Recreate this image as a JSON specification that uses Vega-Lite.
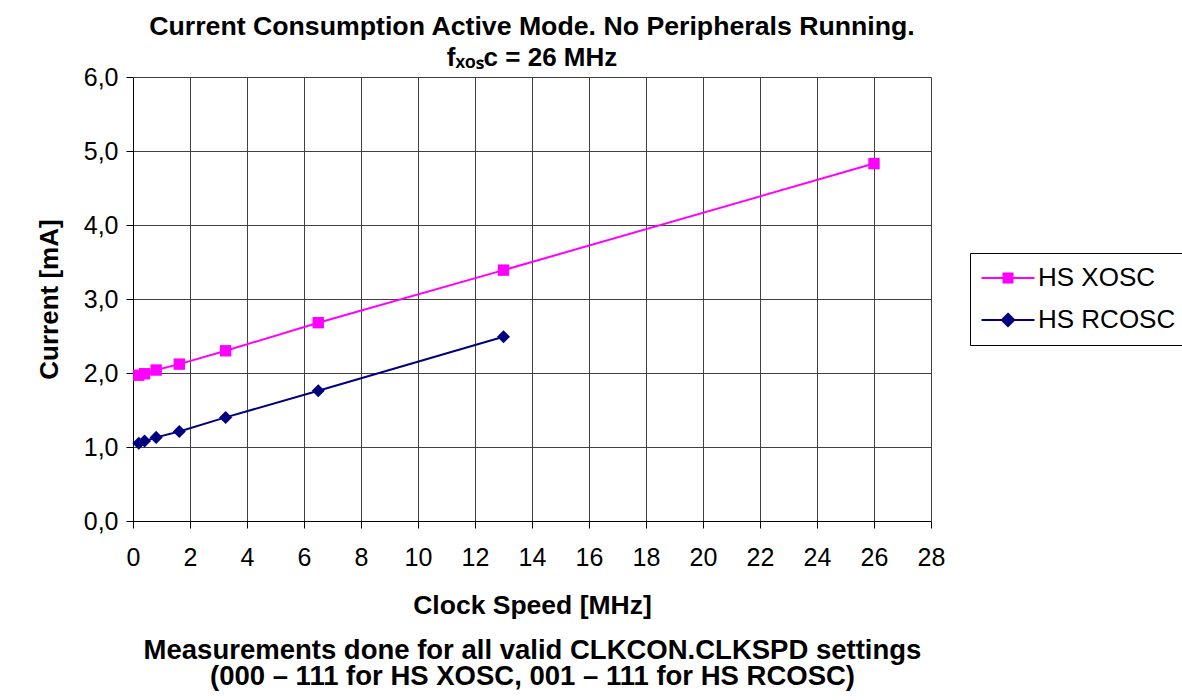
{
  "$schema": "https://vega.github.io/schema/vega-lite/v6.json",
  "width": 798,
  "height": 444,
  "autosize": {"type": "none"},
  "padding": {"left": 133, "top": 77, "right": 251, "bottom": 179},
  "background": "white",
  "config": {"view": {"stroke": null}, "font": "Liberation Sans"},
  "title": {
    "text": "Current Consumption Active Mode. No Peripherals Running.",
    "subtitle": "fₓₒₛc = 26 MHz",
    "anchor": "middle",
    "font": "Liberation Sans",
    "fontSize": 26.7,
    "fontWeight": "bold",
    "color": "black",
    "subtitleFont": "Liberation Sans",
    "subtitleFontSize": 26,
    "subtitleFontWeight": "bold",
    "subtitleColor": "black",
    "subtitlePadding": 4,
    "offset": -6
  },
  "data": {
    "values": [
      {"series": "HS XOSC", "clock": 0.203, "current": 1.97},
      {"series": "HS XOSC", "clock": 0.406, "current": 1.99},
      {"series": "HS XOSC", "clock": 0.8125, "current": 2.04},
      {"series": "HS XOSC", "clock": 1.625, "current": 2.12},
      {"series": "HS XOSC", "clock": 3.25, "current": 2.30},
      {"series": "HS XOSC", "clock": 6.5, "current": 2.68},
      {"series": "HS XOSC", "clock": 13, "current": 3.39},
      {"series": "HS XOSC", "clock": 26, "current": 4.83},
      {"series": "HS RCOSC", "clock": 0.203, "current": 1.05},
      {"series": "HS RCOSC", "clock": 0.406, "current": 1.08},
      {"series": "HS RCOSC", "clock": 0.8125, "current": 1.13},
      {"series": "HS RCOSC", "clock": 1.625, "current": 1.21},
      {"series": "HS RCOSC", "clock": 3.25, "current": 1.40},
      {"series": "HS RCOSC", "clock": 6.5, "current": 1.76},
      {"series": "HS RCOSC", "clock": 13, "current": 2.49}
    ]
  },
  "resolve": {"axis": {"x": "independent"}},
  "encoding": {
    "y": {
      "field": "current",
      "type": "quantitative",
      "scale": {"domain": [0, 6], "nice": false},
      "axis": {
        "values": [0, 1, 2, 3, 4, 5, 6],
        "labelExpr": "replace(format(datum.value, '.1f'), '.', ',')",
        "title": "Current [mA]",
        "titleFont": "Liberation Sans",
        "titleFontSize": 26,
        "titleFontWeight": "bold",
        "titleColor": "black",
        "titlePadding": 21,
        "labelFont": "Liberation Sans",
        "labelFontSize": 25,
        "labelColor": "black",
        "labelPadding": 8,
        "labelFlush": false,
        "labelOverlap": false,
        "tickColor": "black",
        "tickSize": 7,
        "domainColor": "black",
        "grid": true,
        "gridColor": "#404040",
        "gridWidth": 1
      }
    }
  },
  "layer": [
    {
      "mark": {"type": "line", "strokeWidth": 2},
      "encoding": {
        "x": {
          "field": "clock",
          "type": "quantitative",
          "scale": {"domain": [0, 28], "nice": false},
          "axis": {
            "orient": "bottom",
            "values": [0, 2, 4, 6, 8, 10, 12, 14, 16, 18, 20, 22, 24, 26, 28],
            "title": "Clock Speed [MHz]",
            "titleFont": "Liberation Sans",
            "titleFontSize": 26.5,
            "titleFontWeight": "bold",
            "titleColor": "black",
            "titlePadding": 22,
            "labelFont": "Liberation Sans",
            "labelFontSize": 25,
            "labelColor": "black",
            "labelPadding": 17,
            "labelFlush": false,
            "labelOverlap": false,
            "tickColor": "black",
            "tickSize": 7,
            "domainColor": "black",
            "grid": true,
            "gridColor": "#404040",
            "gridWidth": 1
          }
        },
        "color": {
          "field": "series",
          "type": "nominal",
          "scale": {"domain": ["HS XOSC", "HS RCOSC"], "range": ["#ff00ff", "#000080"]},
          "legend": {
            "orient": "none",
            "legendX": 837,
            "legendY": 176,
            "title": null,
            "strokeColor": "black",
            "fillColor": "white",
            "padding": 12,
            "rowPadding": 16,
            "labelFont": "Liberation Sans",
            "labelFontSize": 26,
            "labelColor": "black",
            "labelOffset": 17,
            "symbolOffset": 13,
            "symbolSize": 400,
            "symbolStrokeWidth": 2,
            "symbolOpacity": 1,
            "encode": {
              "symbols": {
                "update": {
                  "shape": {"signal": "datum.value === 'HS XOSC' ? 'M-2.65,0H2.65M-0.55,-0.45H0.55M-0.55,-0.25H0.55M-0.55,-0.05H0.55M-0.55,0.15H0.55M-0.55,0.35H0.55M-0.55,0.45H0.55' : 'M-2.65,0H2.65M0,-0.62L0.62,0L0,0.62L-0.62,0ZM-0.12,-0.45H0.12M-0.32,-0.25H0.32M-0.52,-0.05H0.52M-0.42,0.15H0.42M-0.22,0.35H0.22M-0.3,0.25H0.3M-0.5,0.05H0.5M-0.4,-0.15H0.4M-0.2,-0.35H0.2'"},
                  "fill": {"signal": "datum.value === 'HS XOSC' ? '#ff00ff' : '#000080'"},
                  "stroke": {"signal": "datum.value === 'HS XOSC' ? '#ff00ff' : '#000080'"},
                  "strokeWidth": {"value": 2},
                  "opacity": {"value": 1}
                }
              }
            }
          }
        }
      }
    },
    {
      "transform": [{"filter": "datum.series === 'HS XOSC'"}],
      "mark": {"type": "point", "filled": true, "opacity": 1, "shape": "square", "size": 130},
      "encoding": {
        "x": {
          "field": "clock",
          "type": "quantitative",
          "scale": {"domain": [0, 28], "nice": false},
          "axis": {
            "orient": "bottom",
            "offset": 101,
            "title": ["Measurements done for all valid CLKCON.CLKSPD settings", "(000 – 111 for HS XOSC, 001 – 111 for HS RCOSC)"],
            "titleFont": "Liberation Sans",
            "titleFontSize": 27.5,
            "titleFontWeight": "bold",
            "titleColor": "black",
            "titleLineHeight": 26,
            "titlePadding": 14,
            "labels": false,
            "ticks": false,
            "domain": false,
            "grid": false
          }
        },
        "color": {"field": "series", "type": "nominal", "scale": {"domain": ["HS XOSC", "HS RCOSC"], "range": ["#ff00ff", "#000080"]}, "legend": null}
      }
    },
    {
      "transform": [{"filter": "datum.series === 'HS RCOSC'"}],
      "mark": {"type": "point", "filled": true, "opacity": 1, "shape": "diamond", "size": 170},
      "encoding": {
        "x": {"field": "clock", "type": "quantitative", "scale": {"domain": [0, 28], "nice": false}, "axis": null},
        "color": {"field": "series", "type": "nominal", "scale": {"domain": ["HS XOSC", "HS RCOSC"], "range": ["#ff00ff", "#000080"]}, "legend": null}
      }
    }
  ]
}
